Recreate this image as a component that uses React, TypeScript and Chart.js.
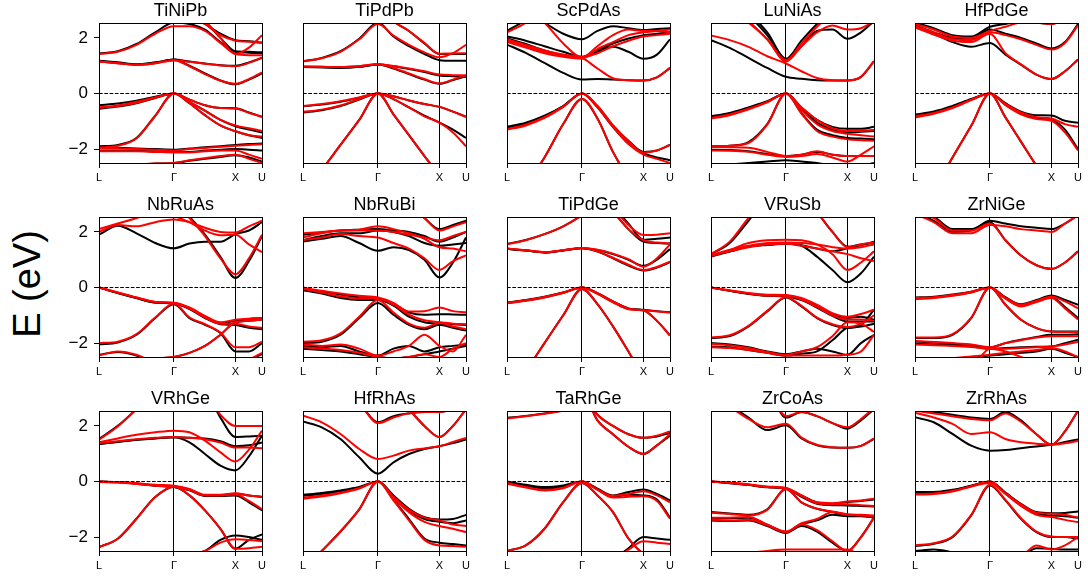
import React, { useEffect, useRef } from 'react';
import { Chart, registerables } from 'chart.js';

Chart.register(...registerables);

// k-path sample positions (fraction of path length), high-symmetry ticks
const K = [0, 0.115, 0.23, 0.345, 0.46, 0.555, 0.65, 0.745, 0.837, 0.92, 1.0];
const K_TICK_POS = [0, 0.46, 0.837, 1];
const K_TICK_LABELS = ['L', 'Γ', 'X', 'U'];
const E_TICKS = [-2, 0, 2];
const E_MIN = -2.5;
const E_MAX = 2.5;

const MATERIALS = [
  'TiNiPb', 'TiPdPb', 'ScPdAs', 'LuNiAs', 'HfPdGe',
  'NbRuAs', 'NbRuBi', 'TiPdGe', 'VRuSb', 'ZrNiGe',
  'VRhGe', 'HfRhAs', 'TaRhGe', 'ZrCoAs', 'ZrRhAs',
];

// ---- band energies (eV) at K, black = reference, red = model ----
const TiNiPb_black = [
  [1.44, 1.52, 1.78, 2.2, 2.55, 2.5, 2.3, 1.85, 1.5, 1.47, 1.45],
  [1.16, 1.1, 1.04, 1.1, 1.22, 1.15, 1.08, 1.02, 1.0, 1.12, 1.28],
  [1.18, 1.12, 1.05, 1.12, 1.22, 1.0, 0.72, 0.47, 0.33, 0.5, 0.72],
  [3.2, 3.2, 3.2, 3.2, 3.2, 2.85, 2.5, 2.15, 1.92, 1.88, 1.83],
  [3.2, 3.2, 3.2, 3.2, 3.2, 3.0, 2.6, 2.0, 1.52, 1.5, 1.48],
  [-0.42, -0.36, -0.26, -0.12, 0, -0.22, -0.42, -0.52, -0.53, -0.68, -0.84],
  [-0.55, -0.47, -0.35, -0.16, 0, -0.3, -0.62, -0.95, -1.18, -1.3, -1.4],
  [-1.9, -1.85, -1.6, -0.8, 0, -0.35, -0.78, -1.15, -1.36, -1.5, -1.6],
  [-1.92, -1.95, -1.98, -2.0, -2.02, -1.98, -1.93, -1.9, -1.85, -1.82, -1.8],
  [-2.05, -2.05, -2.06, -2.08, -2.1, -2.1, -2.05, -2.02, -2.0, -2.02, -2.05],
  [-2.6, -2.6, -2.56, -2.52, -2.5, -2.42, -2.35, -2.28, -2.22, -2.3, -2.45],
];
const TiNiPb_red = [
  [1.42, 1.5, 1.75, 2.15, 2.42, 2.42, 2.25, 1.82, 1.42, 1.38, 1.38],
  [1.15, 1.09, 1.03, 1.09, 1.2, 1.14, 1.07, 1.01, 0.98, 1.1, 1.3],
  [1.15, 1.09, 1.03, 1.09, 1.2, 0.98, 0.7, 0.46, 0.35, 0.52, 0.76],
  [3.2, 3.2, 3.2, 3.2, 3.2, 2.85, 2.5, 2.1, 1.9, 1.86, 1.82],
  [3.2, 3.2, 3.2, 3.2, 3.2, 3.0, 2.6, 2.0, 1.42, 1.65, 2.1],
  [-0.5, -0.43, -0.3, -0.14, 0, -0.22, -0.42, -0.52, -0.54, -0.7, -0.84],
  [-0.52, -0.45, -0.33, -0.15, 0, -0.3, -0.62, -0.95, -1.15, -1.25, -1.35],
  [-1.95, -1.88, -1.62, -0.8, 0, -0.35, -0.78, -1.15, -1.36, -1.5, -1.55],
  [-1.95, -1.97, -2.0, -2.02, -2.05, -2.0, -1.96, -1.92, -1.88, -1.85, -1.83],
  [-2.08, -2.08, -2.08, -2.1, -2.12, -2.12, -2.08, -2.05, -2.05, -2.2, -2.35],
  [-2.6, -2.6, -2.56, -2.52, -2.5, -2.4, -2.33, -2.25, -2.2, -2.35, -2.5],
];

const TiPdPb_black = [
  [1.16, 1.28, 1.52, 1.97, 2.55, 2.05, 1.7, 1.42, 1.2, 1.18, 1.18],
  [3.2, 3.2, 3.2, 3.2, 3.2, 2.6, 2.25, 1.8, 1.42, 1.42, 1.42],
  [0.95, 0.94, 0.93, 0.96, 1.04, 0.98, 0.88, 0.77, 0.65, 0.62, 0.6],
  [0.95, 0.94, 0.93, 0.96, 1.04, 0.9, 0.7, 0.5, 0.35, 0.48, 0.62],
  [-0.46, -0.4, -0.3, -0.15, 0, -0.1, -0.25, -0.38, -0.48, -0.65, -0.83],
  [-0.68, -0.6, -0.45, -0.22, 0, -0.2, -0.5, -0.8, -1.05, -1.3, -1.6],
  [-3.6, -2.75, -1.85, -0.95, 0, -0.75, -1.5, -2.25, -2.95, -3.5, -3.8],
];
const TiPdPb_red = [
  [1.15, 1.27, 1.5, 1.95, 2.5, 2.08, 1.75, 1.48, 1.3, 1.45, 1.75],
  [3.2, 3.2, 3.2, 3.2, 3.2, 2.6, 2.25, 1.82, 1.43, 1.44, 1.45],
  [0.97, 0.96, 0.95, 0.98, 1.05, 0.99, 0.9, 0.8, 0.68, 0.66, 0.65],
  [0.97, 0.96, 0.95, 0.98, 1.05, 0.92, 0.72, 0.52, 0.36, 0.5, 0.66],
  [-0.45, -0.38, -0.28, -0.14, 0, -0.1, -0.25, -0.38, -0.48, -0.65, -0.85],
  [-0.66, -0.58, -0.43, -0.2, 0, -0.2, -0.5, -0.82, -1.05, -1.4, -1.9],
  [-3.6, -2.75, -1.85, -0.95, 0, -0.75, -1.5, -2.25, -2.95, -3.5, -3.8],
];

const ScPdAs_black = [
  [1.76, 1.46, 1.1, 0.74, 0.5, 0.52, 0.5, 0.48, 0.47, 0.58, 0.92],
  [1.98, 1.78, 1.55, 1.38, 1.3, 1.5, 1.68, 1.5, 1.25, 1.4, 1.95],
  [2.05, 1.9, 1.7, 1.5, 1.32, 1.55, 1.8, 1.98, 2.1, 2.15, 2.2],
  [3.2, 3.0, 2.55, 2.15, 1.95, 2.25, 2.42, 2.35, 2.28, 2.32, 2.35],
  [2.25, 2.65, 3.2, 3.2, 3.2, 3.2, 3.2, 3.2, 3.2, 3.2, 3.2],
  [-1.2, -1.05, -0.8, -0.45, 0, -0.45, -1.15, -1.7, -2.1, -2.05, -1.85],
  [-1.22, -1.08, -0.82, -0.46, 0, -0.5, -1.2, -1.8, -2.15, -2.3, -2.4],
  [-4.2, -3.3, -2.3, -1.1, -0.2, -0.9, -2.1, -3.0, -3.5, -3.5, -3.5],
];
const ScPdAs_red = [
  [1.95, 1.75, 1.55, 1.4, 1.28, 0.9, 0.55, 0.48, 0.47, 0.58, 0.92],
  [1.9, 1.7, 1.5, 1.35, 1.3, 1.45, 1.7, 1.9, 2.05, 2.1, 2.15],
  [1.85, 1.65, 1.45, 1.32, 1.25, 1.6, 1.85, 2.1, 2.2, 2.25, 2.3],
  [3.5, 3.1, 2.55, 1.8, 1.3, 1.7, 2.1, 2.3, 2.25, 2.25, 2.2],
  [2.2, 2.55, 3.2, 3.2, 3.2, 3.2, 3.2, 3.2, 3.2, 3.2, 3.2],
  [-1.28, -1.12, -0.85, -0.47, 0, -0.45, -1.15, -1.72, -2.12, -2.05, -1.85],
  [-1.3, -1.15, -0.88, -0.48, 0, -0.5, -1.2, -1.82, -2.2, -2.35, -2.5],
  [-4.2, -3.3, -2.3, -1.1, -0.2, -0.9, -2.1, -3.0, -3.5, -3.5, -3.5],
];

const LuNiAs_black = [
  [1.92, 1.64, 1.28, 0.92, 0.6, 0.53, 0.48, 0.47, 0.47, 0.6, 1.16],
  [3.5, 3.2, 2.8, 2.1, 1.22, 1.7, 2.25, 2.3, 1.97, 2.2, 2.6],
  [3.6, 3.3, 2.9, 2.2, 1.25, 1.9, 2.5, 3.0, 3.2, 3.2, 3.2],
  [-0.82, -0.7, -0.5, -0.28, 0, -0.5, -0.95, -1.2, -1.27, -1.27, -1.2],
  [-0.85, -0.72, -0.52, -0.3, 0, -0.55, -1.05, -1.3, -1.4, -1.38, -1.35],
  [-1.9, -1.88, -1.75, -1.1, 0, -0.7, -1.3, -1.5, -1.6, -1.62, -1.65],
  [-2.02, -2.03, -2.08, -2.18, -2.25, -2.2, -2.1, -2.2, -2.25, -2.25, -2.25],
  [-2.6, -2.55, -2.5, -2.45, -2.4, -2.45, -2.5, -2.6, -2.7, -2.6, -2.5],
];
const LuNiAs_red = [
  [2.09, 1.92, 1.68, 1.34, 1.08, 0.8, 0.56, 0.48, 0.47, 0.6, 1.16],
  [3.3, 3.0, 2.55, 1.95, 1.15, 1.7, 2.2, 2.45, 2.3, 2.35, 2.6],
  [3.5, 3.1, 2.6, 1.95, 1.2, 1.8, 2.4, 2.9, 3.2, 3.2, 3.2],
  [-0.88, -0.75, -0.55, -0.3, 0, -0.5, -0.95, -1.25, -1.35, -1.35, -1.3],
  [-0.9, -0.78, -0.57, -0.32, 0, -0.6, -1.1, -1.35, -1.45, -1.5, -1.55],
  [-1.9, -1.88, -1.78, -1.12, 0, -0.72, -1.35, -1.55, -1.65, -1.68, -1.7],
  [-1.92, -1.93, -1.95, -2.1, -2.25, -2.2, -2.08, -2.2, -2.25, -2.25, -2.25],
  [-2.05, -2.06, -2.1, -2.2, -2.28, -2.25, -2.18, -2.3, -2.45, -2.2, -1.9],
];

const HfPdGe_black = [
  [2.4, 2.15, 1.85, 1.68, 1.82, 1.4, 1.04, 0.68, 0.52, 0.8, 1.22],
  [2.45, 2.2, 2.0, 1.95, 2.3, 2.15, 2.0, 1.8, 1.62, 1.85, 2.5],
  [2.55, 2.35, 2.1, 2.05, 2.4, 2.5, 2.6, 2.55, 2.5, 2.7, 3.0],
  [-0.76, -0.65, -0.45, -0.2, 0, -0.35, -0.65, -0.78, -0.79, -0.98, -1.05],
  [-0.8, -0.68, -0.48, -0.22, 0, -0.4, -0.72, -0.88, -0.95, -1.3, -2.0],
  [-4.6, -3.5, -2.3, -1.16, 0, -0.86, -1.73, -2.6, -3.4, -3.8, -4.0],
];
const HfPdGe_red = [
  [2.38, 2.12, 1.9, 1.85, 2.15, 1.45, 1.05, 0.68, 0.52, 0.8, 1.22],
  [2.42, 2.2, 1.95, 1.92, 2.2, 2.1, 1.95, 1.75, 1.58, 1.82, 2.45],
  [2.5, 2.3, 2.05, 2.0, 2.25, 2.4, 2.55, 2.55, 2.5, 2.7, 3.0],
  [-0.82, -0.7, -0.5, -0.22, 0, -0.37, -0.68, -0.85, -0.9, -1.1, -1.2],
  [-0.86, -0.73, -0.52, -0.24, 0, -0.42, -0.75, -0.92, -0.98, -1.4, -2.05],
  [-4.6, -3.5, -2.3, -1.16, 0, -0.86, -1.73, -2.6, -3.4, -3.8, -4.0],
];

const NbRuAs_black = [
  [1.9, 2.22, 1.95, 1.6, 1.41, 1.58, 1.65, 1.65, 1.92, 2.05, 2.35],
  [3.2, 3.2, 3.2, 3.2, 3.2, 2.55, 1.9, 1.1, 0.34, 0.95, 1.85],
  [0, -0.2, -0.38, -0.54, -0.56, -0.74, -1.04, -1.28, -1.2, -1.13, -1.1],
  [0, -0.2, -0.38, -0.54, -0.58, -0.78, -1.1, -1.32, -1.35, -1.45, -1.5],
  [-2.04, -1.98, -1.7, -1.1, -0.6, -1.1, -1.34, -1.64, -2.3, -2.3, -2.0],
  [-2.7, -2.65, -2.6, -2.55, -2.5, -2.35, -2.1, -1.7, -1.25, -1.2, -1.15],
  [-2.42, -2.32, -2.45, -2.7, -2.8, -2.8, -2.8, -2.8, -2.8, -2.6, -2.4],
];
const NbRuAs_red = [
  [2.1, 2.3, 2.5, 2.75, 3.0, 3.2, 3.2, 3.2, 3.2, 3.2, 3.2],
  [2.0, 2.25, 2.2, 2.35, 2.45, 2.35, 2.15, 2.0, 1.98, 2.2, 2.4],
  [3.2, 3.2, 3.2, 3.2, 3.2, 2.5, 1.85, 1.05, 0.48, 1.05, 1.9],
  [3.2, 3.2, 3.2, 3.2, 2.6, 2.35, 2.05, 1.88, 1.9, 1.55, 1.27],
  [0, -0.18, -0.36, -0.52, -0.55, -0.72, -1.02, -1.25, -1.16, -1.12, -1.1],
  [0, -0.18, -0.36, -0.52, -0.56, -0.76, -1.08, -1.3, -1.3, -1.4, -1.45],
  [-2.0, -1.95, -1.68, -1.08, -0.58, -1.08, -1.32, -1.62, -2.15, -2.15, -1.95],
  [-2.7, -2.65, -2.6, -2.55, -2.5, -2.35, -2.1, -1.7, -1.25, -1.2, -1.15],
  [-2.45, -2.3, -2.42, -2.7, -2.8, -2.8, -2.8, -2.8, -2.8, -2.6, -2.35],
];

const NbRuBi_black = [
  [1.65, 1.75, 1.85, 1.6, 1.32, 1.45, 1.35, 1.0, 0.36, 0.9, 1.8],
  [1.7, 1.85, 1.95, 1.95, 2.05, 2.0, 1.85, 1.6, 1.5, 1.55, 1.6],
  [1.9, 1.98, 2.05, 2.08, 2.1, 2.05, 2.0, 1.85, 1.65, 1.8, 2.0],
  [3.2, 3.2, 3.2, 3.2, 3.2, 3.2, 3.0, 2.5, 2.1, 2.25, 2.4],
  [-0.05, -0.15, -0.25, -0.35, -0.4, -0.6, -0.9, -0.98, -0.96, -0.97, -0.98],
  [-0.1, -0.22, -0.38, -0.45, -0.45, -0.65, -1.05, -1.25, -1.3, -1.32, -1.35],
  [-2.0, -1.95, -1.7, -1.1, -0.56, -0.98, -1.34, -1.5, -1.34, -1.45, -1.55],
  [-2.1, -2.15, -2.1, -2.3, -2.45, -2.2, -2.1, -2.3, -2.15, -2.1, -2.05],
  [-2.2, -2.25, -2.3, -2.4, -2.5, -2.55, -2.5, -2.4, -2.3, -2.2, -2.1],
];
const NbRuBi_red = [
  [1.7, 1.8, 1.92, 1.85, 1.8, 1.6, 1.4, 1.05, 0.63, 0.95, 1.15],
  [1.8, 1.95, 2.05, 2.05, 2.05, 2.0, 1.9, 1.8, 1.7, 1.85, 2.0],
  [1.95, 2.0, 2.05, 2.08, 2.2, 2.1, 1.95, 1.75, 1.45, 1.4, 1.3],
  [3.2, 3.2, 3.2, 3.2, 3.2, 3.2, 3.0, 2.5, 2.05, 2.2, 2.35],
  [0, -0.12, -0.22, -0.3, -0.36, -0.55, -0.86, -0.85, -0.72, -0.85, -0.89],
  [-0.05, -0.18, -0.32, -0.4, -0.4, -0.62, -0.98, -1.18, -1.25, -1.3, -1.32],
  [-1.95, -1.9, -1.65, -1.05, -0.45, -0.9, -1.3, -1.45, -1.28, -1.4, -1.5],
  [-2.05, -2.1, -2.05, -2.2, -2.45, -2.3, -2.1, -1.7, -2.1, -2.3, -1.7],
  [-2.15, -2.2, -2.25, -2.35, -2.5, -2.55, -2.5, -2.4, -2.5, -2.2, -2.0],
];

const TiPdGe_black = [
  [1.57, 1.71, 1.92, 2.2, 2.6, 3.0, 2.7, 2.1, 1.65, 1.6, 1.58],
  [3.2, 3.2, 3.2, 3.2, 3.2, 3.2, 2.9, 2.3, 1.72, 1.75, 1.8],
  [1.39, 1.33, 1.26, 1.33, 1.41, 1.29, 1.05, 0.79, 0.61, 0.72, 0.91],
  [1.39, 1.33, 1.26, 1.33, 1.41, 1.35, 1.2, 1.0, 0.78, 1.0, 1.38],
  [-0.54, -0.45, -0.33, -0.18, 0, -0.2, -0.5, -0.75, -0.8, -0.85, -0.89],
  [-0.56, -0.47, -0.35, -0.19, 0, -0.22, -0.52, -0.77, -0.82, -1.2, -1.72],
  [-3.8, -3.0, -2.0, -1.0, -0.05, -0.6, -1.4, -2.3, -3.2, -3.6, -3.8],
];
const TiPdGe_red = [
  [1.55, 1.7, 1.92, 2.2, 2.6, 3.0, 2.7, 2.1, 1.7, 1.62, 1.58],
  [3.2, 3.2, 3.2, 3.2, 3.2, 3.2, 2.85, 2.25, 1.89, 1.9, 1.95],
  [1.4, 1.34, 1.27, 1.34, 1.42, 1.3, 1.07, 0.82, 0.63, 0.74, 0.93],
  [1.4, 1.34, 1.27, 1.34, 1.42, 1.36, 1.22, 1.02, 0.75, 1.05, 1.55],
  [-0.55, -0.46, -0.34, -0.18, 0, -0.2, -0.5, -0.76, -0.82, -0.86, -0.9],
  [-0.57, -0.48, -0.36, -0.2, 0, -0.23, -0.53, -0.78, -0.83, -1.2, -1.74],
  [-3.8, -3.0, -2.0, -1.0, -0.05, -0.6, -1.4, -2.3, -3.2, -3.6, -3.8],
];

const VRuSb_black = [
  [1.11, 1.29, 1.47, 1.53, 1.57, 1.5, 1.11, 0.63, 0.19, 0.51, 1.11],
  [1.15, 1.3, 1.47, 1.55, 1.57, 1.52, 1.4, 1.3, 1.41, 1.52, 1.65],
  [1.2, 1.6, 2.4, 3.2, 3.2, 3.2, 2.7, 2.0, 1.47, 1.55, 1.6],
  [0, -0.12, -0.22, -0.28, -0.29, -0.4, -0.65, -0.95, -1.1, -1.05, -1.16],
  [0, -0.12, -0.23, -0.3, -0.32, -0.45, -0.72, -1.02, -1.22, -1.22, -1.22],
  [-1.82, -1.75, -1.4, -0.86, -0.36, -0.68, -1.1, -1.35, -1.46, -1.35, -0.8],
  [-2.0, -2.05, -2.15, -2.3, -2.4, -2.3, -2.2, -2.3, -2.42, -2.0, -1.7],
  [-2.12, -2.15, -2.25, -2.35, -2.45, -2.38, -2.3, -1.9, -1.45, -1.4, -1.3],
];
const VRuSb_red = [
  [1.13, 1.35, 1.6, 1.7, 1.72, 1.7, 1.55, 1.2, 0.63, 0.9, 1.3],
  [1.15, 1.3, 1.45, 1.55, 1.57, 1.5, 1.4, 1.3, 1.2, 1.05, 0.95],
  [1.2, 1.65, 2.5, 3.2, 3.2, 3.2, 2.7, 2.0, 1.45, 1.55, 1.62],
  [1.18, 1.35, 1.5, 1.6, 1.62, 1.6, 1.55, 1.45, 1.4, 1.45, 1.55],
  [0, -0.1, -0.2, -0.26, -0.27, -0.38, -0.62, -0.92, -1.05, -0.95, -0.8],
  [0, -0.12, -0.22, -0.29, -0.3, -0.43, -0.7, -1.0, -1.15, -1.15, -1.2],
  [-1.8, -1.72, -1.38, -0.84, -0.34, -0.66, -1.08, -1.32, -1.42, -1.3, -1.0],
  [-2.02, -2.08, -2.18, -2.32, -2.42, -2.3, -2.15, -1.75, -1.25, -1.3, -1.6],
  [-2.15, -2.18, -2.25, -2.35, -2.45, -2.45, -2.45, -2.45, -2.42, -2.3, -1.7],
];

const ZrNiGe_black = [
  [2.7, 2.4, 2.0, 2.05, 2.4, 2.3, 2.2, 2.15, 2.1, 2.3, 2.6],
  [2.8, 2.55, 2.1, 2.1, 2.35, 1.7, 1.15, 0.8, 0.67, 0.9, 1.3],
  [-0.36, -0.33, -0.25, -0.15, 0, -0.35, -0.6, -0.45, -0.29, -0.45, -0.62],
  [-0.4, -0.36, -0.28, -0.17, 0, -0.38, -0.65, -0.5, -0.35, -0.7, -1.1],
  [-1.82, -1.82, -1.7, -1.1, 0, -0.62, -1.16, -1.46, -1.58, -1.58, -1.58],
  [-1.94, -1.98, -2.02, -2.07, -2.16, -2.0, -1.88, -1.78, -1.7, -1.7, -1.68],
  [-2.02, -2.05, -2.08, -2.12, -2.2, -2.18, -2.15, -2.13, -2.12, -2.0, -1.88],
  [-2.8, -2.8, -2.6, -2.5, -2.45, -2.4, -2.35, -2.3, -2.2, -2.35, -2.5],
];
const ZrNiGe_red = [
  [2.65, 2.35, 1.95, 1.95, 2.25, 2.2, 2.1, 2.05, 2.0, 2.3, 2.6],
  [2.75, 2.5, 2.05, 2.05, 2.3, 1.7, 1.15, 0.8, 0.67, 0.9, 1.3],
  [-0.38, -0.35, -0.27, -0.15, 0, -0.37, -0.62, -0.48, -0.32, -0.5, -0.75],
  [-0.42, -0.38, -0.3, -0.18, 0, -0.4, -0.68, -0.52, -0.38, -0.75, -1.15],
  [-1.8, -1.8, -1.68, -1.08, 0, -0.62, -1.16, -1.46, -1.58, -1.6, -1.6],
  [-1.92, -1.96, -2.0, -2.05, -2.15, -2.0, -1.9, -1.8, -1.75, -1.75, -1.75],
  [-2.05, -2.08, -2.1, -2.14, -2.2, -2.2, -2.18, -2.15, -2.12, -2.05, -1.95],
  [-2.8, -2.7, -2.55, -2.48, -2.42, -2.35, -2.3, -2.25, -2.18, -2.3, -2.5],
  [-2.8, -2.8, -2.8, -2.8, -2.2, -2.3, -2.5, -2.7, -2.8, -2.8, -2.8],
];

const VRhGe_black = [
  [1.53, 2.0, 2.6, 3.2, 3.2, 3.2, 3.2, 2.3, 1.6, 1.62, 1.65],
  [1.35, 1.42, 1.5, 1.56, 1.59, 1.41, 0.99, 0.57, 0.4, 0.9, 1.65],
  [1.35, 1.43, 1.5, 1.55, 1.59, 1.57, 1.55, 1.45, 1.27, 1.3, 1.4],
  [0, -0.02, -0.07, -0.14, -0.17, -0.29, -0.5, -0.5, -0.44, -0.5, -0.56],
  [0, -0.03, -0.08, -0.15, -0.2, -0.32, -0.52, -0.52, -0.5, -0.75, -1.04],
  [-2.36, -2.06, -1.34, -0.56, -0.2, -0.5, -1.04, -1.7, -2.42, -2.1, -1.9],
  [-3.0, -3.0, -3.0, -2.8, -2.7, -2.6, -2.5, -2.1, -1.94, -2.0, -2.1],
];
const VRhGe_red = [
  [1.5, 1.98, 2.6, 3.2, 3.2, 3.2, 3.2, 2.4, 2.0, 2.0, 2.0],
  [1.41, 1.55, 1.68, 1.77, 1.83, 1.77, 1.47, 1.05, 0.72, 1.15, 1.83],
  [1.38, 1.45, 1.52, 1.57, 1.6, 1.57, 1.52, 1.4, 1.22, 1.22, 1.2],
  [0, -0.02, -0.06, -0.12, -0.15, -0.27, -0.48, -0.48, -0.42, -0.5, -0.55],
  [-0.02, -0.04, -0.09, -0.15, -0.19, -0.31, -0.5, -0.5, -0.47, -0.7, -1.0],
  [-2.36, -2.06, -1.34, -0.56, -0.18, -0.5, -1.04, -1.7, -2.42, -2.4, -2.35],
  [-3.0, -3.0, -3.0, -2.8, -2.7, -2.6, -2.5, -2.2, -2.08, -2.1, -2.15],
];

const HfRhAs_black = [
  [2.16, 1.95, 1.53, 0.87, 0.28, 0.69, 0.99, 1.17, 1.27, 1.38, 1.51],
  [3.2, 3.2, 3.2, 2.8, 2.13, 2.35, 2.45, 2.5, 2.5, 2.6, 2.7],
  [3.2, 3.2, 3.2, 3.2, 3.2, 3.2, 2.6, 2.0, 1.6, 2.0, 2.6],
  [-0.48, -0.41, -0.32, -0.2, 0, -0.5, -0.98, -1.28, -1.37, -1.35, -1.2],
  [-0.52, -0.45, -0.35, -0.22, 0, -0.55, -1.05, -1.35, -1.45, -1.5, -1.4],
  [-3.2, -2.5, -1.8, -1.0, 0, -0.65, -1.35, -2.05, -2.2, -2.25, -2.3],
];
const HfRhAs_red = [
  [2.37, 2.13, 1.71, 1.17, 0.81, 0.93, 1.11, 1.19, 1.27, 1.42, 1.57],
  [3.2, 3.2, 3.2, 2.8, 2.1, 2.3, 2.45, 2.5, 2.5, 2.6, 2.7],
  [3.2, 3.2, 3.2, 3.2, 3.2, 3.2, 2.6, 2.0, 1.6, 2.0, 2.6],
  [-0.62, -0.54, -0.42, -0.25, 0, -0.6, -1.1, -1.45, -1.6, -1.7, -1.82],
  [-0.58, -0.5, -0.4, -0.24, 0, -0.55, -1.02, -1.3, -1.4, -1.55, -1.6],
  [-3.2, -2.5, -1.8, -1.0, 0, -0.68, -1.4, -2.1, -2.3, -2.32, -2.35],
];

const TaRhGe_black = [
  [2.29, 2.36, 2.45, 2.55, 2.7, 2.9, 3.2, 3.2, 3.2, 3.2, 3.2],
  [3.2, 3.2, 3.2, 3.2, 3.2, 2.4, 2.0, 1.7, 1.57, 1.62, 1.75],
  [3.2, 3.2, 3.2, 3.2, 3.2, 2.2, 1.7, 1.25, 0.99, 1.3, 1.65],
  [0, -0.12, -0.2, -0.14, 0, -0.26, -0.5, -0.38, -0.29, -0.45, -0.68],
  [-0.02, -0.15, -0.25, -0.18, 0, -0.28, -0.55, -0.48, -0.5, -0.65, -1.3],
  [-2.5, -2.3, -1.7, -0.74, -0.05, -0.5, -1.1, -2.05, -2.6, -2.8, -2.8],
  [-3.0, -3.0, -3.0, -3.0, -3.0, -2.9, -2.8, -2.4, -2.0, -2.05, -2.1],
];
const TaRhGe_red = [
  [2.27, 2.35, 2.44, 2.55, 2.7, 2.9, 3.2, 3.2, 3.2, 3.2, 3.2],
  [3.2, 3.2, 3.2, 3.2, 3.2, 2.4, 2.0, 1.7, 1.57, 1.65, 1.8],
  [3.2, 3.2, 3.2, 3.2, 3.2, 2.2, 1.7, 1.25, 0.99, 1.3, 1.7],
  [-0.05, -0.2, -0.3, -0.22, 0, -0.28, -0.52, -0.45, -0.35, -0.5, -0.75],
  [-0.08, -0.22, -0.32, -0.24, 0, -0.3, -0.58, -0.55, -0.53, -0.7, -1.34],
  [-2.5, -2.3, -1.7, -0.74, -0.05, -0.5, -1.1, -2.05, -2.6, -2.8, -2.8],
  [-3.0, -3.0, -3.0, -3.0, -3.0, -2.9, -2.8, -2.45, -2.15, -2.2, -2.25],
];

const ZrCoAs_black = [
  [3.2, 2.75, 2.3, 1.85, 2.02, 1.55, 1.3, 1.22, 1.21, 1.28, 1.53],
  [3.2, 3.2, 3.2, 3.2, 2.3, 2.5, 2.35, 2.1, 1.9, 2.2, 2.6],
  [0, -0.05, -0.12, -0.2, -0.24, -0.5, -0.75, -0.8, -0.74, -0.7, -0.65],
  [0, -0.06, -0.13, -0.21, -0.26, -0.55, -0.8, -0.85, -0.86, -0.88, -0.9],
  [-1.1, -1.15, -1.2, -1.0, -0.27, -0.75, -0.98, -1.1, -1.22, -1.23, -1.25],
  [-1.34, -1.32, -1.3, -1.55, -1.82, -1.55, -1.4, -1.2, -1.25, -1.25, -1.3],
  [-1.4, -1.42, -1.4, -1.6, -1.85, -1.6, -1.8, -2.2, -2.5, -2.0, -1.3],
];
const ZrCoAs_red = [
  [3.2, 2.7, 2.25, 1.95, 2.08, 1.58, 1.32, 1.23, 1.21, 1.28, 1.55],
  [3.2, 3.2, 3.2, 3.2, 2.35, 2.5, 2.35, 2.1, 1.95, 2.25, 2.65],
  [0, -0.04, -0.1, -0.18, -0.23, -0.5, -0.75, -0.78, -0.72, -0.68, -0.62],
  [0, -0.05, -0.12, -0.2, -0.25, -0.52, -0.78, -0.82, -0.82, -0.85, -0.88],
  [-1.12, -1.17, -1.22, -1.02, -0.27, -0.75, -0.98, -1.08, -1.18, -1.2, -1.22],
  [-1.3, -1.3, -1.28, -1.55, -1.8, -1.5, -1.35, -1.1, -1.2, -1.22, -1.25],
  [-1.38, -1.4, -1.38, -1.58, -1.82, -1.55, -1.75, -2.15, -2.5, -2.0, -1.3],
  [-3.0, -3.0, -2.6, -2.5, -2.45, -2.45, -2.45, -2.45, -2.45, -2.7, -3.0],
];

const ZrRhAs_black = [
  [2.31, 2.13, 1.71, 1.29, 1.11, 1.13, 1.2, 1.26, 1.32, 1.42, 1.51],
  [2.6, 2.5, 2.4, 2.3, 2.25, 2.5, 2.2, 1.7, 1.32, 1.8, 2.55],
  [-0.38, -0.38, -0.3, -0.15, 0, -0.4, -0.8, -1.1, -1.14, -1.13, -1.08],
  [-0.42, -0.4, -0.32, -0.16, 0, -0.43, -0.85, -1.15, -1.22, -1.25, -1.3],
  [-2.32, -2.24, -2.0, -1.22, -0.14, -0.68, -1.34, -1.82, -2.0, -2.0, -2.05],
  [-2.5, -2.45, -2.55, -2.7, -2.8, -2.8, -2.7, -2.4, -2.42, -2.45, -2.45],
];
const ZrRhAs_red = [
  [2.47, 2.3, 2.07, 1.71, 1.77, 1.53, 1.41, 1.36, 1.32, 1.38, 1.46],
  [2.55, 2.45, 2.35, 2.25, 2.2, 2.45, 2.15, 1.7, 1.32, 1.8, 2.55],
  [-0.45, -0.43, -0.34, -0.17, 0, -0.42, -0.82, -1.12, -1.16, -1.2, -1.3],
  [-0.47, -0.45, -0.36, -0.18, -0.05, -0.45, -0.88, -1.2, -1.28, -1.38, -1.46],
  [-2.3, -2.22, -1.98, -1.2, -0.12, -0.66, -1.32, -1.8, -1.98, -2.0, -2.0],
  [-2.6, -2.6, -2.65, -2.75, -2.8, -2.8, -2.7, -2.3, -2.45, -2.3, -2.0],
];

const BLACK_BANDS = [
  TiNiPb_black, TiPdPb_black, ScPdAs_black, LuNiAs_black, HfPdGe_black,
  NbRuAs_black, NbRuBi_black, TiPdGe_black, VRuSb_black, ZrNiGe_black,
  VRhGe_black, HfRhAs_black, TaRhGe_black, ZrCoAs_black, ZrRhAs_black,
];
const RED_BANDS = [
  TiNiPb_red, TiPdPb_red, ScPdAs_red, LuNiAs_red, HfPdGe_red,
  NbRuAs_red, NbRuBi_red, TiPdGe_red, VRuSb_red, ZrNiGe_red,
  VRhGe_red, HfRhAs_red, TaRhGe_red, ZrCoAs_red, ZrRhAs_red,
];

// ---- layout ----
const FONT = "'Liberation Sans', Arial, Helvetica, sans-serif";
const PLOT_W = 163;
const PLOT_H = 139;
const LEFT0 = 99;
const TOP0 = 24;
const COL_STEP = 204;
const ROW_STEP = 194;
const AX_W = 40;
const TITLE_H = 24;
const XAX_H = 22;
const CANVAS_W = AX_W + PLOT_W + AX_W;
const CANVAS_H = TITLE_H + PLOT_H + XAX_H;

const frame = {
  id: 'frame',
  afterDatasetsDraw(chart: any) {
    const { ctx, chartArea } = chart;
    const l = Math.round(chartArea.left - 0.5) + 0.5;
    const r = Math.round(chartArea.right - 0.5) + 0.5;
    const t = Math.round(chartArea.top - 0.5) + 0.5;
    const b = Math.round(chartArea.bottom - 0.5) + 0.5;
    ctx.save();
    ctx.strokeStyle = '#000';
    ctx.lineWidth = 1;
    ctx.strokeRect(l, t, r - l, b - t);
    ctx.restore();
  },
};

function Panel({ idx }: { idx: number }) {
  const ref = useRef<HTMLCanvasElement>(null);
  const col = idx % 5;
  const row = Math.floor(idx / 5);
  const left = LEFT0 + col * COL_STEP - AX_W;
  const top = TOP0 + row * ROW_STEP - TITLE_H;

  useEffect(() => {
    if (!ref.current) return;
    const toPts = (band: number[]) => band.map((e, i) => ({ x: K[i], y: e }));
    const datasets: any[] = [];
    BLACK_BANDS[idx].forEach((b) =>
      datasets.push({
        data: toPts(b), borderColor: '#000000', borderWidth: 2,
        pointRadius: 0, cubicInterpolationMode: 'monotone', fill: false, order: 2,
      })
    );
    RED_BANDS[idx].forEach((b) =>
      datasets.push({
        data: toPts(b), borderColor: '#ff0000', borderWidth: 2,
        pointRadius: 0, cubicInterpolationMode: 'monotone', fill: false, order: 1,
      })
    );
    datasets.push({
      data: [{ x: 0, y: 0 }, { x: 1, y: 0 }], borderColor: '#000000', borderWidth: 1,
      borderDash: [3.7, 1.6], pointRadius: 0, tension: 0, fill: false, order: 0,
    });

    const chart = new Chart(ref.current, {
      type: 'line',
      data: { datasets },
      plugins: [frame],
      options: {
        animation: false,
        responsive: false,
        devicePixelRatio: 1,
        events: [],
        layout: { padding: 0 },
        plugins: {
          legend: { display: false },
          tooltip: { enabled: false },
          title: {
            display: true,
            text: MATERIALS[idx],
            color: '#000',
            font: { family: FONT, size: 18, weight: 'normal', lineHeight: 1.2 },
            padding: { top: 0, bottom: TITLE_H - 21.6 },
          },
        },
        scales: {
          x: {
            type: 'linear',
            min: 0,
            max: 1,
            afterBuildTicks: (s: any) => { s.ticks = K_TICK_POS.map((v) => ({ value: v })); },
            afterFit: (s: any) => { s.height = XAX_H; },
            ticks: {
              autoSkip: false,
              maxRotation: 0,
              color: '#000',
              padding: 3,
              font: { family: FONT, size: 11 },
              callback: (_v: any, i: number) => K_TICK_LABELS[i],
            },
            grid: { color: '#000', lineWidth: 1, drawTicks: true, tickLength: 5, drawOnChartArea: true },
            border: { display: true, color: '#000', width: 1 },
          },
          y: {
            type: 'linear',
            position: 'left',
            min: E_MIN,
            max: E_MAX,
            afterBuildTicks: (s: any) => { s.ticks = E_TICKS.map((v) => ({ value: v })); },
            afterFit: (s: any) => { s.width = AX_W; },
            ticks: {
              display: col === 0,
              color: '#000',
              padding: 6,
              font: { family: FONT, size: 17 },
              callback: (v: any) => (v < 0 ? '\u2212' + Math.abs(v) : String(v)),
            },
            grid: { display: true, drawOnChartArea: false, drawTicks: col === 0, tickLength: 5, color: '#000', lineWidth: 1 },
            border: { display: true, color: '#000', width: 1 },
          },
          yRight: {
            type: 'linear',
            position: 'right',
            min: E_MIN,
            max: E_MAX,
            afterFit: (s: any) => { s.width = AX_W; },
            ticks: { display: false },
            grid: { display: false, drawTicks: false },
            border: { display: false },
          },
        },
      } as any,
    });
    return () => chart.destroy();
  }, [idx, col]);

  return (
    <canvas
      ref={ref}
      width={CANVAS_W}
      height={CANVAS_H}
      style={{ position: 'absolute', left, top, width: CANVAS_W, height: CANVAS_H }}
    />
  );
}

export default function App() {
  return (
    <div style={{ position: 'absolute', left: 0, top: 0, width: 1088, height: 578, background: '#fff', overflow: 'hidden' }}>
      {MATERIALS.map((_, i) => (
        <Panel key={i} idx={i} />
      ))}
      <div
        style={{
          position: 'absolute',
          left: 26.5,
          top: 283.5,
          transform: 'translate(-50%, -50%) rotate(-90deg)',
          fontFamily: FONT,
          fontSize: 38,
          lineHeight: 'normal',
          whiteSpace: 'nowrap',
          color: '#000',
        }}
      >
        E (eV)
      </div>
    </div>
  );
}
